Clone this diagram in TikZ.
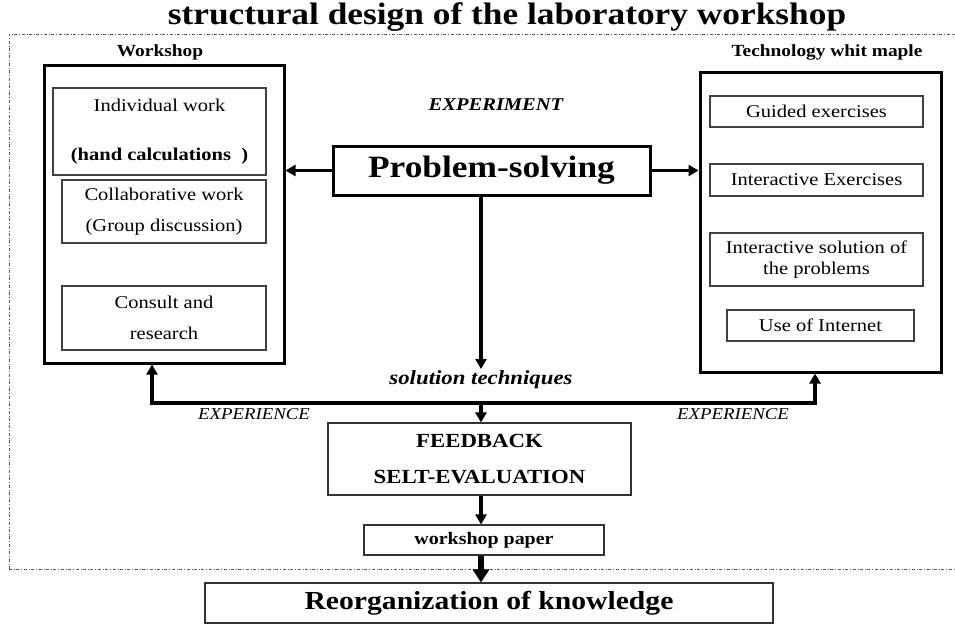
\documentclass[tikz,border=0pt]{standalone}
\usepackage{fontspec}
\setmainfont{Liberation Serif}[FakeStretch=1.14]
\usetikzlibrary{arrows.meta}
\newcommand{\fsz}[1]{\fontsize{#1}{\fpeval{1.17*#1}}\selectfont}
\begin{document}
\begin{tikzpicture}[x=1pt,y=-1pt,
  bigbox/.style={draw,line width=3pt,inner sep=0pt},
  inbox/.style={draw=black!75,line width=1.1pt,inner sep=0pt,align=center,font=\fsz{18}},
  arr/.style={line width=3.2pt,-{Triangle[length=10pt,width=11pt]}},
  lbl/.style={inner sep=0pt}]
\useasboundingbox (0,0) rectangle (955,627);
\draw[dash dot,black!65,line width=0.8pt] (9,569) -- (9,34) -- (960,34) (9,569) -- (960,569);
\node[lbl,font=\fsz{31}\bfseries] (title) at (507,17) {structural design of the laboratory workshop};
% left group
\node[lbl,font=\fsz{17}\bfseries] (wslbl) at (160,52) {Workshop};
\node[bigbox,minimum width=240,minimum height=298] (ws) at (164,214) {};
\node[inbox,minimum width=213,minimum height=87] (ind) at (159.5,131.5) {Individual work\\[28pt]{\bfseries (hand calculations~~)}};
\node[inbox,minimum width=204,minimum height=63] (col) at (164,211.5) {Collaborative work\\[10pt](Group discussion)};
\node[inbox,minimum width=204,minimum height=64] (con) at (164,318) {Consult and\\[10pt]research};
% centre
\node[lbl,font=\fsz{18}\bfseries\itshape] (exp) at (496,105) {EXPERIMENT};
\node[bigbox,minimum width=317,minimum height=49,font=\fsz{31}\bfseries] (ps) at (491.5,170.5) {Problem-solving};
% right group
\node[lbl,font=\fsz{17}\bfseries] (techlbl) at (827,52) {Technology whit maple};
\node[bigbox,minimum width=241,minimum height=300] (tech) at (820.5,222) {};
\node[inbox,minimum width=213,minimum height=31] (gui) at (816.5,111.5) {Guided exercises};
\node[inbox,minimum width=213,minimum height=32] (iex) at (816.5,180) {Interactive Exercises};
\node[inbox,minimum width=213,minimum height=53] (isol) at (816.5,259.5) {Interactive solution of\\the problems};
\node[inbox,minimum width=187,minimum height=31] (net) at (820.5,325.5) {Use of Internet};
% bottom
\node[lbl,font=\fsz{20}\bfseries\itshape] (sol) at (481,380) {solution techniques};
\coordinate (j) at (481,403);
\coordinate (st) at (481,369);
\coordinate (L) at (152,403);
\coordinate (R) at (815,403);
\node[lbl,font=\fsz{16.5}\itshape] (expl) at (254,414) {EXPERIENCE};
\node[lbl,font=\fsz{16.5}\itshape] (expr) at (733,414) {EXPERIENCE};
\node[inbox,draw=black!80,minimum width=303,minimum height=72,font=\fsz{20}\bfseries] (fb) at (479.5,459) {FEEDBACK\\[12pt]SELT-EVALUATION};
\node[inbox,draw=black!80,minimum width=240,minimum height=30,font=\fsz{17.5}\bfseries] (wp) at (484,540) {workshop paper};
\node[inbox,draw=black!80,minimum width=568,minimum height=40,font=\fsz{26}\bfseries] (reorg) at (489,603) {Reorganization of knowledge};
% connectors
\draw[arr] (ps.west) -- (ps.west -| ws.east);
\draw[arr] (ps.east) -- (ps.east -| tech.west);
\draw[arr] (ps.south -| j) -- (st);
\draw[line width=3.2pt,line cap=rect] (L) -- (R);
\draw[arr] (L) -- (L |- ws.south);
\draw[arr] (R) -- (R |- tech.south);
\draw[arr] (j) -- (fb.north -| j);
\draw[arr] (fb.south -| j) -- (wp.north -| j);
\draw[line width=5.5pt,-{Triangle[length=13pt,width=16pt]}] (wp.south -| j) -- (reorg.north -| j);
\end{tikzpicture}
\end{document}
